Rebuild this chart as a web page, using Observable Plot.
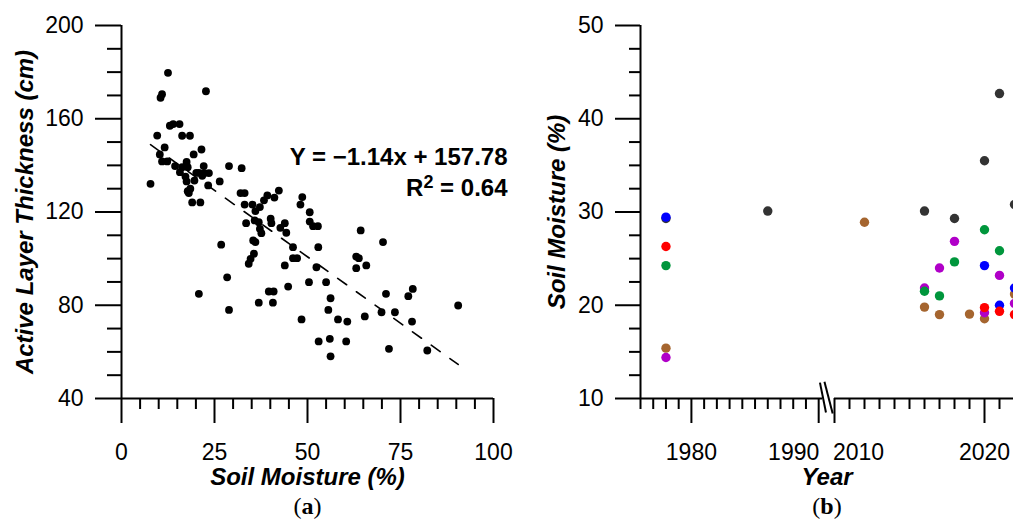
<!DOCTYPE html>
<html><head><meta charset="utf-8">
<script src="https://cdn.jsdelivr.net/npm/d3@7"></script>
<script src="https://cdn.jsdelivr.net/npm/@observablehq/plot@0.6"></script>
<style>
html,body{margin:0;padding:0;background:#fff;overflow:hidden;}
#fig{position:relative;width:1013px;height:519px;overflow:hidden;background:#fff;}
#fig svg{position:absolute;top:0;}
</style></head><body><div id="fig"></div>
<script>
// ---------- Panel (a) data ----------
const soilMoisture = [7.8,9.6,12.5,10.5,10.9,10.3,11.6,10.9,12.3,13.0,13.9,15.6,16.3,18.4,14.4,15.7,16.3,17.5,17.8,17.2,17.5,17.8,18.1,18.5,19.0,21.2,19.4,19.6,20.1,20.8,21.5,22.1,22.3,23.5,21.7,22.7,23.3,20.8,26.4,26.8,28.4,28.9,28.9,32.3,32.0,33.1,33.1,33.5,35.2,36.0,37.2,35.8,36.9,37.2,37.6,35.4,36.0,35.6,34.7,34.2,38.3,39.2,41.1,42.3,40.1,40.3,42.7,43.9,44.3,36.9,39.6,40.9,40.7,46.1,47.2,46.1,43.9,44.8,48.6,48.1,50.6,50.6,51.5,52.8,52.9,52.4,50.4,48.4,53.0,55.0,56.2,55.6,56.0,56.2,58.2,60.7,60.4,64.3,63.1,63.8,63.1,65.8,65.4,70.3,71.1,69.9,73.5,71.9,77.1,78.3,78.1,82.2,90.5];
const activeLayer = [132.1,152.8,179.7,169.0,170.5,144.7,147.7,141.7,141.7,157.0,157.7,157.7,152.7,152.7,139.7,137.1,139.2,141.5,139.2,135.2,133.1,128.9,128.1,130.0,124.1,124.1,144.7,133.5,136.8,136.8,146.8,139.7,136.7,136.7,135.5,171.8,131.4,84.9,133.1,106.0,92.0,78.0,139.7,138.8,128.1,128.1,123.2,115.2,123.2,120.4,122.1,116.4,115.6,112.8,110.9,107.8,107.1,102.1,99.9,97.8,125.0,127.1,126.2,129.2,117.1,115.2,113.2,115.2,111.1,81.1,85.9,85.9,81.1,104.9,100.2,100.2,97.1,88.0,126.4,123.2,119.9,115.9,113.9,113.9,104.9,96.3,89.9,73.9,64.5,89.9,83.0,78.0,65.6,58.1,73.9,73.0,64.5,112.1,100.9,100.2,95.9,97.1,75.2,107.1,84.9,77.0,77.0,61.3,83.9,87.0,73.0,60.6,79.9];
const regSlope = -1.14, regIntercept = 157.78;
const xDomainA = [0, 100], yDomainA = [40, 200];
const xTicksA = [0, 25, 50, 75, 100];
const xMinorA = [5,10,15,20,30,35,40,45,55,60,65,70,80,85,90,95];
const yTicksA = [40, 80, 120, 160, 200];
const yMinorA = [50,60,70,90,100,110,130,140,150,170,180,190];

// ---------- Panel (b) data ----------
const seriesNames = ["S1","S2","S3","S4","S5","S6"];
const seriesColors = ["#333333","#a5652f","#b000c8","#00963c","#0000ff","#ff0000"];
const yearsS1 = [1978,1986,2016,2018,2020,2021,2022];
const valsS1  = [29.3,30.1,30.1,29.3,35.5,42.7,30.8];
const yearsS2 = [1978,2012,2016,2017,2019,2020,2022];
const valsS2  = [15.4,28.9,19.8,19.0,19.05,18.55,21.2];
const yearsS3 = [1978,2016,2017,2018,2020,2021,2022];
const valsS3  = [14.4,21.85,24.0,26.85,19.2,23.2,20.2];
const yearsS4 = [1978,2016,2017,2018,2020,2021];
const valsS4  = [24.25,21.5,21.0,24.65,28.1,25.85];
const yearsS5 = [1978,2020,2021,2022];
const valsS5  = [29.45,24.25,20.0,21.85];
const yearsS6 = [1978,2020,2021,2022];
const valsS6  = [26.3,19.75,19.35,19.0];
const yDomainB = [10, 50];
const yTicksB = [10,20,30,40,50];
const yMinorB = [12.5,15,17.5,22.5,25,27.5,32.5,35,37.5,42.5,45,47.5];
const xBreakDomain = [1976, 1990.3, 2010, 2030];
const xBreakRange  = [110, 292, 304, 604];
const xMajorB = [1980, 1990, 2010, 2020, 2030];
const xMinorB = [1976,1977,1978,1979,1981,1982,1983,1984,1985,1986,1987,1988,1989,
                 2011,2012,2013,2014,2015,2016,2017,2018,2019,2021,2022,2023,2024,2025,2026,2027,2028,2029];
const xLabelsB = [1980, 2020], xLabelLeftB = [1990], xLabelRightB = [2010];
const breakMarks = [{x1:1990.1,y1:11.7,x2:1996.0,y2:8.5},{x1:1993.5,y1:11.8,x2:2007.0,y2:8.4}];

const FONT = "'Liberation Sans', Arial, Helvetica, sans-serif";

const dataA = soilMoisture.map((v,i) => ({sm: v, alt: activeLayer[i]}));
const [xmin, xmax] = d3.extent(soilMoisture);
const regLine = [xmin, xmax].map(x => ({x, y: regSlope * x + regIntercept}));

const plotA = Plot.plot({
  width: 530, height: 519,
  marginLeft: 121, marginRight: 37, marginTop: 25, marginBottom: 121,
  x: {domain: xDomainA}, y: {domain: yDomainA},
  style: {background: "transparent", fontFamily: FONT, fontSize: "23px", color: "#000", overflow: "visible"},
  marks: [
    Plot.axisY({ticks: yTicksA, tickSize: 26, tickPadding: 12, strokeWidth: 2, label: null, fontSize: 23}),
    Plot.axisY({ticks: yMinorA, tickSize: 14, strokeWidth: 2, tickFormat: () => "", label: null}),
    Plot.axisX({ticks: xTicksA, tickSize: 25, tickPadding: 20, strokeWidth: 2, label: null, fontSize: 23}),
    Plot.axisX({ticks: xMinorA, tickSize: 11, strokeWidth: 2, tickFormat: () => "", label: null}),
    Plot.ruleX([xDomainA[0]], {y1: yDomainA[0], y2: yDomainA[1], strokeWidth: 2}),
    Plot.ruleY([yDomainA[0]], {x1: xDomainA[0], x2: xDomainA[1], strokeWidth: 2}),
    Plot.dot(dataA, {x: "sm", y: "alt", r: 3.9, fill: "#000", stroke: null}),
    Plot.line(regLine, {x: "x", y: "y", stroke: "#000", strokeWidth: 1.6, strokeDasharray: "11,12"}),
    Plot.text(["Y = \u22121.14x + 157.78"], {x: 100, y: 143.4, dx: 14, textAnchor: "end", fontWeight: "bold", fontSize: 24}),
    Plot.text(["R2 = 0.64"], {x: 100, y: 130, dx: 14, textAnchor: "end", fontWeight: "bold", fontSize: 24}),
    Plot.text(["Active Layer Thickness (cm)"], {frameAnchor: "left", rotate: -90, dx: -96, textAnchor: "middle", lineAnchor: "middle", fontWeight: "bold", fontStyle: "italic", fontSize: 24}),
    Plot.text(["Soil Moisture (%)"], {frameAnchor: "bottom", dy: 79, lineAnchor: "middle", fontWeight: "bold", fontStyle: "italic", fontSize: 24}),
    Plot.text(["(a)"], {frameAnchor: "bottom", dy: 108, lineAnchor: "middle", fontSize: 24, fontFamily: "'Liberation Serif', 'Times New Roman', serif"})
  ]
});
plotA.style.left = "0px";

const seriesData = [[yearsS1,valsS1],[yearsS2,valsS2],[yearsS3,valsS3],[yearsS4,valsS4],[yearsS5,valsS5],[yearsS6,valsS6]];
const dataB = seriesData.flatMap(([ys, vs], k) => ys.map((y, i) => ({year: y, value: vs[i], series: seriesNames[k]})));

const plotB = Plot.plot({
  width: 483, height: 519,
  marginLeft: 110, marginRight: 0, marginTop: 25, marginBottom: 121,
  x: {type: "linear", domain: xBreakDomain, range: xBreakRange},
  y: {domain: yDomainB},
  color: {domain: seriesNames, range: seriesColors},
  style: {background: "transparent", fontFamily: FONT, fontSize: "23px", color: "#000", overflow: "visible"},
  marks: [
    Plot.axisY({ticks: yTicksB, tickSize: 25, tickPadding: 12, strokeWidth: 2, label: null, fontSize: 23}),
    Plot.axisY({ticks: yMinorB, tickSize: 11, strokeWidth: 2, tickFormat: () => "", label: null}),
    Plot.axisX({ticks: xMajorB, tickSize: 25, strokeWidth: 2, tickFormat: () => "", label: null}),
    Plot.axisX({ticks: xMinorB, tickSize: 11, strokeWidth: 2, tickFormat: () => "", label: null}),
    Plot.text(xLabelsB, {x: d => d, text: d => String(d), frameAnchor: "bottom", dy: 54, lineAnchor: "middle", fontSize: 23}),
    Plot.text(xLabelLeftB, {x: d => d, text: d => String(d), frameAnchor: "bottom", dy: 54, dx: -25, lineAnchor: "middle", fontSize: 23}),
    Plot.text(xLabelRightB, {x: d => d, text: d => String(d), frameAnchor: "bottom", dy: 54, dx: 24, lineAnchor: "middle", fontSize: 23}),
    Plot.ruleX([xBreakDomain[0]], {y1: yDomainB[0], y2: yDomainB[1], strokeWidth: 2}),
    Plot.ruleY([yDomainB[0]], {x1: xBreakDomain[0], x2: xBreakDomain[1], strokeWidth: 2}),
    Plot.ruleY([yDomainB[0]], {x1: xBreakDomain[2], x2: xBreakDomain[3], strokeWidth: 2}),
    Plot.link(breakMarks, {x1: "x1", y1: "y1", x2: "x2", y2: "y2", strokeWidth: 2, stroke: "#000"}),
    Plot.dot(dataB, {x: "year", y: "value", fill: "series", r: 4.7, stroke: null}),
    Plot.text(["Soil Moisture (%)"], {frameAnchor: "left", rotate: -90, dx: -83, textAnchor: "middle", lineAnchor: "middle", fontWeight: "bold", fontStyle: "italic", fontSize: 24}),
    Plot.text(["Year"], {frameAnchor: "bottom", dy: 79, lineAnchor: "middle", fontWeight: "bold", fontStyle: "italic", fontSize: 24}),
    Plot.text(["(b)"], {frameAnchor: "bottom", dy: 108, lineAnchor: "middle", fontSize: 24, fontFamily: "'Liberation Serif', 'Times New Roman', serif"})
  ]
});
plotB.style.left = "530px";

const fig = document.getElementById("fig");
fig.appendChild(plotA);
fig.appendChild(plotB);

// rich text touches: superscript and bold panel letters
const NS = "http://www.w3.org/2000/svg";
function ts(parent, txt, attrs) {
  const t = document.createElementNS(NS, "tspan");
  for (const k in attrs) t.setAttribute(k, attrs[k]);
  t.textContent = txt;
  parent.appendChild(t);
}
for (const t of fig.querySelectorAll("text")) {
  const s = t.textContent;
  if (s === "R2 = 0.64") {
    t.textContent = "";
    ts(t, "R", {});
    ts(t, "2", {dy: "-8", "font-size": "18"});
    ts(t, " = 0.64", {dy: "8"});
  } else if (s === "(a)" || s === "(b)") {
    t.textContent = "";
    ts(t, "(", {});
    ts(t, s[1], {"font-weight": "bold"});
    ts(t, ")", {});
  }
}
</script></body></html>
